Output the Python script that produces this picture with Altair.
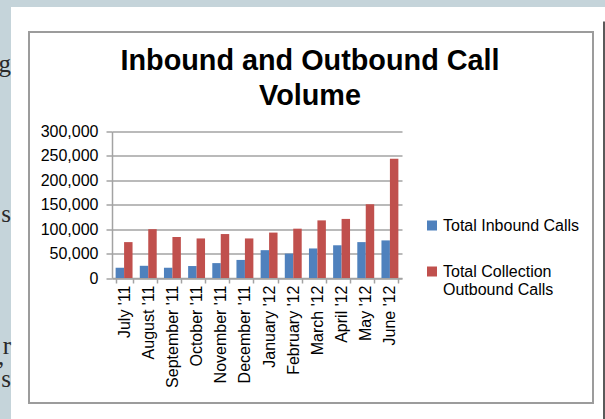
import altair as alt
import pandas as pd

months = ["July '11", "August '11", "September '11", "October '11", "November '11",
          "December '11", "January '12", "February '12", "March '12", "April '12",
          "May '12", "June '12"]
inbound = [21000, 25000, 21000, 24500, 30500, 37000, 57000, 50000, 60500, 67000, 73500, 77000]
outbound = [73500, 100000, 84000, 81000, 90000, 81000, 93000, 101000, 118000, 121000, 151000, 244000]
series = ["Total Inbound Calls", "Total Collection Outbound Calls"]
colors = ["#4F81BD", "#C0504D"]
y_ticks = [0, 50000, 100000, 150000, 200000, 250000, 300000]
title_lines = ["Inbound and Outbound Call", "Volume"]
side_letters = ["g", "s", "r", "\u2019", "s"]

rows = []
for m, a, b in zip(months, inbound, outbound):
    rows.append({"month": m, "series": series[0], "value": a})
    rows.append({"month": m, "series": series[1], "value": b})
df = pd.DataFrame(rows)

FONT = "Liberation Sans"
GRID = "#a3a3a3"

bars = alt.Chart(df).mark_bar().encode(
    x=alt.X("month:N", sort=months, title=None,
            scale=alt.Scale(paddingInner=0.3, paddingOuter=0.15),
            axis=alt.Axis(labelAngle=-90, labelFontSize=16, labelFont=FONT, labelColor="#000",
                          tickBand="extent", tickSize=5, tickColor=GRID, tickWidth=1.5,
                          domainColor=GRID, domainWidth=1.5, labelPadding=2, grid=False)),
    xOffset=alt.XOffset("series:N", sort=series,
                        scale=alt.Scale(paddingInner=0, paddingOuter=0)),
    y=alt.Y("value:Q", scale=alt.Scale(domain=[0, 300000]), title=None,
            axis=alt.Axis(values=y_ticks, format=",.0f", gridColor=GRID, gridWidth=1.5,
                          tickSize=6, tickColor=GRID, tickWidth=1.5, domainColor=GRID,
                          domainWidth=1.5, labelPadding=8, labelFontSize=16, labelFont=FONT,
                          labelColor="#000")),
    color=alt.Color("series:N", sort=series,
                    scale=alt.Scale(domain=series, range=colors),
                    legend=alt.Legend(title=None, orient="none", legendX=312, legendY=86,
                                      symbolType="square", symbolSize=100,
                                      symbolStrokeWidth=0, labelFontSize=16,
                                      labelFont=FONT, labelColor="#000", labelOffset=3,
                                      rowPadding=30, labelLimit=300,
                                      labelExpr="datum.label == 'Total Collection Outbound Calls' ? ['Total Collection', 'Outbound Calls'] : datum.label")),
)

dummy = pd.DataFrame({"_": [0]})
BG = "#c5d4da"

def rect(x1, x2, y1, y2, **kw):
    return alt.Chart(dummy).mark_rect(**kw).encode(
        x=alt.value(x1), x2=alt.value(x2), y=alt.value(y1), y2=alt.value(y2))

left_strip = rect(-112, -101, -131.5, 287.5, color=BG)
top_strip = rect(-112, 493, -131.5, -124.5, color=BG)
right_edge = rect(491, 493, -110, 287.5, color="#5a5a5a")
border = rect(-83, 481, -99.5, 271.5, fill="transparent", stroke="#9c9c9c", strokeWidth=2)

letter_x = [-101, -101, -101, -107, -101]
letter_y = [-60, 90, 222, 247, 255.5]
letters = [
    alt.Chart(dummy).mark_text(align="right", baseline="alphabetic", font="Liberation Serif",
                               fontSize=25, color="#2a2a2a").encode(
        x=alt.value(xx), y=alt.value(yy), text=alt.value(t))
    for t, xx, yy in zip(side_letters, letter_x, letter_y)
]

title_y = [-61.5, -26.5]
titles = [
    alt.Chart(dummy).mark_text(align="center", baseline="alphabetic", font=FONT,
                               fontWeight="bold", fontSize=28.8, color="#000").encode(
        x=alt.value(198), y=alt.value(yy), text=alt.value(t))
    for t, yy in zip(title_lines, title_y)
]

chart = alt.layer(left_strip, top_strip, right_edge, border, *letters, *titles, bars).properties(
    width=290, height=146.5,
    autosize="none",
    padding={"left": 112, "top": 131.5, "right": 203, "bottom": 141},
    background="white",
).configure_view(strokeWidth=0)

chart.save("out.html", embed_options={"renderer": "svg", "actions": False})
